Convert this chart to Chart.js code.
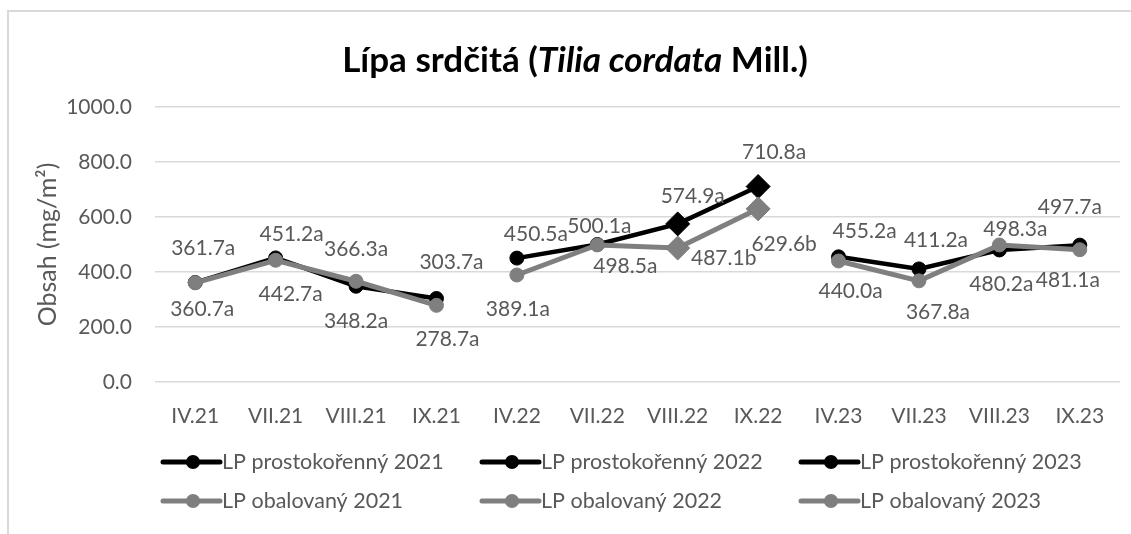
<!DOCTYPE html>
<html>
<head>
<meta charset="utf-8">
<script src="https://cdn.jsdelivr.net/npm/chart.js@4/dist/chart.umd.min.js"></script>
<style>
  html, body { margin: 0; padding: 0; background: #fff; overflow: hidden; }
  #wrap { position: relative; width: 1131px; height: 534px; }
  #frame { position: absolute; left: 7px; top: 10px; width: 1200px; height: 600px;
           border: 2px solid #d9d9d9; box-sizing: border-box; }
  canvas { position: absolute; left: 0; top: 0; }
</style>
</head>
<body>
<div id="wrap">
  <div id="frame"></div>
  <canvas id="chart" width="1131" height="534"></canvas>
</div>
<script>
// categories (sampling months) and y ticks
const categories = ['IV.21', 'VII.21', 'VIII.21', 'IX.21', 'IV.22', 'VII.22', 'VIII.22', 'IX.22',
                    'IV.23', 'VII.23', 'VIII.23', 'IX.23'];
const yTicks = [0, 200, 400, 600, 800, 1000];

// LP prostokořenný (bare-root)
const bare2021 = [361.7, 451.2, 348.2, 303.7];
const bare2022 = [450.5, 500.1, 574.9, 710.8];
const bare2023 = [455.2, 411.2, 480.2, 497.7];
const bareLetters2021 = ['a', 'a', 'a', 'a'];
const bareLetters2022 = ['a', 'a', 'a', 'a'];
const bareLetters2023 = ['a', 'a', 'a', 'a'];

// LP obalovaný (containerised)
const pot2021 = [360.7, 442.7, 366.3, 278.7];
const pot2022 = [389.1, 498.5, 487.1, 629.6];
const pot2023 = [440.0, 367.8, 498.3, 481.1];
const potLetters2021 = ['a', 'a', 'a', 'a'];
const potLetters2022 = ['a', 'a', 'b', 'b'];
const potLetters2023 = ['a', 'a', 'a', 'a'];

const BLACK = '#000000';
const GREY = '#7f7f7f';
const TEXT = '#595959';
const FONT = 'Lato';

// label nudges (px from the point) as placed by hand in the original, per dataset
const labelNudge = [
    [[8, -34], [16, -24], [0, 35], [15, -36]],
    [[19, -24], [2, -18], [15, -28], [16, -34]],
    [[26, -26], [17, -29], [2, 34], [-10, -38]],
    [[7, 26], [15, 34], [0, -32], [11, 34]],
    [[1, 34], [28, 21], [46, 10], [26, 35]],
    [[12, 30], [19, 31], [16, -16], [-12, 31]]
];

// put a year's four values into its slot on the 12-month axis
function spread(vals, year, empty) {
    return categories.map((c, i) => (i >= year * 4 && i < year * 4 + 4) ? vals[i - year * 4] : empty);
}

function series(label, vals, letters, year, color, width, order, diamonds) {
    const styles = categories.map((c, i) => diamonds && (i === 6 || i === 7) ? 'rectRot' : 'circle');
    const radii = styles.map(s => s === 'rectRot' ? 12 : 7);
    return {
        label: label,
        data: spread(vals, year, null),
        letters: spread(letters, year, ''),
        year: year,
        borderColor: color,
        backgroundColor: color,
        pointBackgroundColor: color,
        pointBorderColor: color,
        borderWidth: width,
        pointStyle: styles,
        pointRadius: radii,
        pointHoverRadius: radii,
        pointBorderWidth: 1,
        spanGaps: false,
        tension: 0,
        order: order
    };
}

const datasets = [
    series('LP prostokořenný 2021', bare2021, bareLetters2021, 0, BLACK, 4.5, 2, false),
    series('LP prostokořenný 2022', bare2022, bareLetters2022, 1, BLACK, 4.5, 2, true),
    series('LP prostokořenný 2023', bare2023, bareLetters2023, 2, BLACK, 4.5, 2, false),
    series('LP obalovaný 2021', pot2021, potLetters2021, 0, GREY, 5, 1, false),
    series('LP obalovaný 2022', pot2022, potLetters2022, 1, GREY, 5, 1, true),
    series('LP obalovaný 2023', pot2023, potLetters2023, 2, GREY, 5, 1, false)
];

// title with italic species name
const titlePlugin = {
    id: 'richTitle',
    afterDraw(chart) {
        const ctx = chart.ctx;
        const parts = [
            { t: 'Lípa srdčitá (', f: 'bold 35px ' + FONT },
            { t: 'Tilia cordata', f: 'italic bold 35px ' + FONT },
            { t: ' Mill.)', f: 'bold 35px ' + FONT }
        ];
        ctx.save();
        let total = 0;
        parts.forEach(p => { ctx.font = p.f; p.w = ctx.measureText(p.t).width; total += p.w; });
        let x = 575 - total / 2;
        ctx.fillStyle = '#000';
        ctx.textBaseline = 'middle';
        ctx.textAlign = 'left';
        parts.forEach(p => { ctx.font = p.f; ctx.fillText(p.t, x, 61); x += p.w; });
        ctx.restore();
    }
};

// value labels with their significance letter
const labelPlugin = {
    id: 'valueLabels',
    afterDatasetsDraw(chart) {
        const ctx = chart.ctx;
        ctx.save();
        ctx.font = '21px ' + FONT;
        ctx.fillStyle = TEXT;
        ctx.textBaseline = 'middle';
        ctx.textAlign = 'center';
        chart.data.datasets.forEach((ds, di) => {
            const meta = chart.getDatasetMeta(di);
            ds.data.forEach((v, i) => {
                if (v === null) return;
                const pt = meta.data[i];
                const nudge = labelNudge[di][i - ds.year * 4];
                ctx.fillText(v.toFixed(1) + ds.letters[i], pt.x + nudge[0], pt.y + nudge[1]);
            });
        });
        ctx.restore();
    }
};

// Excel-like legend: 3 columns x 2 rows, line with a marker
const legendPlugin = {
    id: 'gridLegend',
    afterDraw(chart) {
        const ctx = chart.ctx;
        const cols = [163, 482, 801];
        const rows = [462, 501];
        ctx.save();
        ctx.font = '21.5px ' + FONT;
        ctx.textBaseline = 'middle';
        ctx.textAlign = 'left';
        chart.data.datasets.forEach((ds, di) => {
            const x = cols[di % 3];
            const y = rows[Math.floor(di / 3)];
            ctx.strokeStyle = ds.borderColor;
            ctx.lineWidth = 5;
            ctx.lineCap = 'round';
            ctx.beginPath();
            ctx.moveTo(x, y);
            ctx.lineTo(x + 57, y);
            ctx.stroke();
            ctx.fillStyle = ds.borderColor;
            ctx.beginPath();
            ctx.arc(x + 30, y, 7, 0, Math.PI * 2);
            ctx.fill();
            ctx.fillStyle = TEXT;
            ctx.fillText(ds.label, x + 59, y);
        });
        ctx.restore();
    }
};

new Chart(document.getElementById('chart'), {
    type: 'line',
    data: { labels: categories, datasets: datasets },
    plugins: [titlePlugin, labelPlugin, legendPlugin],
    options: {
        responsive: false,
        animation: false,
        devicePixelRatio: 1,
        layout: { padding: { top: 107, right: 11, bottom: 105, left: 0 } },
        plugins: {
            legend: { display: false },
            title: { display: false },
            tooltip: { enabled: false }
        },
        scales: {
            x: {
                offset: true,
                grid: { display: false, drawTicks: false },
                border: { display: false },
                ticks: { color: TEXT, font: { family: FONT, size: 21 }, padding: 22, maxRotation: 0, autoSkip: false },
                afterFit(scale) { scale.height = 47; }
            },
            y: {
                min: yTicks[0],
                max: yTicks[yTicks.length - 1],
                afterBuildTicks(scale) { scale.ticks = yTicks.map(v => ({ value: v })); },
                grid: { color: '#d9d9d9', lineWidth: 1.5, drawTicks: false },
                border: { display: false },
                ticks: { color: TEXT, font: { family: FONT, size: 21 }, padding: 23,
                         callback: v => v.toFixed(1) },
                title: { display: true, text: 'Obsah (mg/m²)', color: TEXT,
                         font: { family: FONT, size: 25 }, padding: { top: 33, bottom: 0 } },
                afterFit(scale) { scale.width = 155; }
            }
        }
    }
});
</script>
</body>
</html>
